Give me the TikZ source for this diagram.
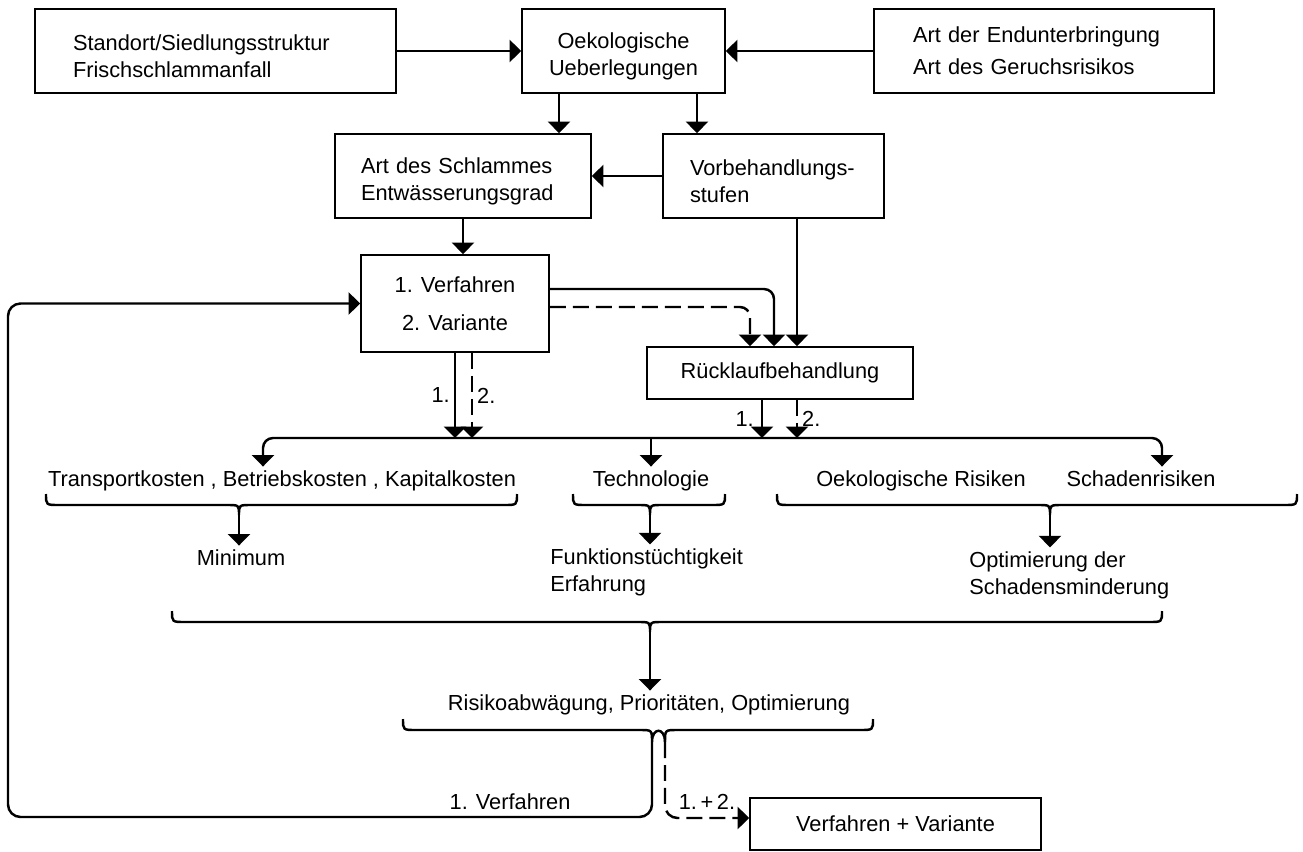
\documentclass[tikz,border=0pt]{standalone}
\usepackage{fontspec}
\setmainfont{Liberation Sans}
\usetikzlibrary{arrows.meta}

\tikzset{
  kasten/.style={draw, line width=1pt, minimum height=1.68cm, inner ysep=0pt},
  pfeil/.style={line width=1.4pt, -{Triangle[width=0.44cm,length=0.23cm]}},
  dpfeil/.style={line width=1.4pt, {Triangle[width=0.44cm,length=0.23cm]}-{Triangle[width=0.44cm,length=0.23cm]}},
  strich/.style={line width=1.4pt},
  gestrichelt/.style={dash pattern=on 0.32cm off 0.14cm},
  marke/.style={inner sep=0.08cm},
  zeile/.style={marke, text height=9pt, text depth=2.5pt},
}
\newcommand{\oben}{\rule{0pt}{15pt}}

\begin{document}
\begin{tikzpicture}[x=0.02cm, y=-0.02cm, font=\fontsize{12.4pt}{15.5pt}\selectfont]
\useasboundingbox (0,0) rectangle (1303,852);

% Kaesten
\node[kasten, minimum width=7.22cm, text width=5.70cm, inner xsep=0.76cm, align=left] (standort) at (215.5,51) {\oben Standort/Siedlungsstruktur\\Frischschlammanfall};
\node[kasten, minimum width=4.06cm, align=center] (oeko) at (623.5,51) {\oben Oekologische\\Ueberlegungen};
\node[kasten, minimum width=6.8cm, text width=5.24cm, inner xsep=0.78cm, align=left] (endunt) at (1044,51) {Art der Endunterbringung\\[2.5pt]Art des Geruchsrisikos};
\node[kasten, minimum width=5.12cm, text width=4.08cm, inner xsep=0.52cm, align=left] (schlamm) at (463,176) {\oben Art des Schlammes\\Entwässerungsgrad};
\node[kasten, minimum width=4.42cm, text width=3.34cm, inner xsep=0.54cm, align=left] (vorbeh) at (773.5,176) {\oben Vorbehandlungs-\\stufen};
\node[kasten, minimum width=3.76cm, minimum height=1.94cm, align=center] (verf) at (455,303.5) {1. Verfahren\\[6pt]2. Variante};
\node[kasten, minimum width=5.32cm, minimum height=1.04cm] (rueck) at (780,373) {Rücklaufbehandlung};
\node[kasten, minimum width=5.82cm, minimum height=1.04cm] (ergebnis) at (895.5,824) {Verfahren + Variante};

% Texte
\node[zeile] (kosten) at (282,481) {Transportkosten , Betriebskosten , Kapitalkosten};
\node[zeile] (tech) at (651,481) {Technologie};
\node[zeile] (oekorisk) at (921,481) {Oekologische Risiken};
\node[zeile] (schaden) at (1141,481) {Schadenrisiken};
\node[zeile] (minimum) at (241,560) {Minimum};
\node[marke, anchor=west, align=left] (funk) at (546,572.5) {Funktionstüchtigkeit\\Erfahrung};
\node[marke, anchor=west, align=left] (opt) at (965,575.5) {Optimierung der\\Schadensminderung};
\node[zeile] (risiko) at (649,705) {Risikoabwägung, Prioritäten, Optimierung};
\node[zeile] (v1) at (510,804) {1. Verfahren};
\node[zeile] (v12) at (707,804) {1.\,+\,2.};

\coordinate (vl) at (263,438);
\coordinate (vr) at (1162,438);

% oben
\draw[pfeil] (standort) -- (oeko);
\draw[pfeil] (endunt) -- (oeko);
\draw[pfeil] ([xshift=-1.29cm]oeko.south) -- ([xshift=-1.29cm]oeko.south |- schlamm.north);
\draw[pfeil] ([xshift=1.47cm]oeko.south) -- ([xshift=1.47cm]oeko.south |- vorbeh.north);
\draw[pfeil] (vorbeh) -- (schlamm);
\draw[pfeil] (schlamm.south) -- (schlamm.south |- verf.north);

% zur Ruecklaufbehandlung
\draw[pfeil, rounded corners=0.2cm] ([yshift=0.29cm]verf.east) -| ([xshift=-0.12cm]rueck.north);
\draw[pfeil, gestrichelt, rounded corners=0.2cm] ([yshift=-0.07cm]verf.east) -| ([xshift=-0.6cm]rueck.north);
\draw[pfeil] ([xshift=0.47cm]vorbeh.south) -- ([xshift=0.47cm]vorbeh.south |- rueck.north);

% nach unten
\draw[pfeil] (verf.south) -- node[left, marke]{1.} (verf.south |- vl);
\draw[pfeil, gestrichelt] ([xshift=0.34cm]verf.south) -- node[right, marke]{2.} ([xshift=0.34cm]verf.south |- vl);
\draw[pfeil] ([xshift=-0.36cm]rueck.south) -- node[left, marke, xshift=-0.06cm]{1.} ([xshift=-0.36cm]rueck.south |- vl);
\draw[pfeil, gestrichelt] ([xshift=0.34cm]rueck.south) -- node[right, marke]{2.} ([xshift=0.34cm]rueck.south |- vl);

\draw[dpfeil, rounded corners=0.2cm] (kosten.north -| vl) |- (vr) -- (vr |- schaden.north);
\draw[pfeil] (tech.north |- vl) -- (tech.north);

% Klammern
\foreach \xa/\xm/\xb/\yb/\nm in {46/239/517/505/k1, 573/650/725/505/k2, 777/1050/1297/505/k3, 172/650/1162/622/k4}
  \draw[strich] (\xa,\yb-11) .. controls (\xa,\yb) .. (\xa+13,\yb) -- (\xm-12,\yb) .. controls (\xm,\yb) .. (\xm,\yb+10) coordinate (\nm)
    .. controls (\xm,\yb) .. (\xm+12,\yb) -- (\xb-13,\yb) .. controls (\xb,\yb) .. (\xb,\yb-11);

\draw[pfeil] (k1) -- (k1 |- minimum.north);
\draw[pfeil] (k2) -- (k2 |- funk.north);
\draw[pfeil] (k3) -- (k3 |- opt.north);
\draw[pfeil] (k4) -- (k4 |- risiko.north);

% Rueckfuehrung
\coordinate (sv) at (652,742);
\coordinate (sd) at (665,742);
\coordinate (unten) at (8,817);
\draw[strich] (403,719) .. controls (403,730) .. (416,730) -- (640,730) .. controls (652,730) .. (sv) .. controls (652,727) and (665,727) .. (sd);
\draw[strich] (873,719) .. controls (873,730) .. (860,730) -- (677,730) .. controls (665,730) .. (sd);
\draw[pfeil, rounded corners=0.25cm] (sv) |- (unten) |- (verf.west);
\draw[pfeil, gestrichelt, rounded corners=0.25cm] (sd) |- ([yshift=0.12cm]ergebnis.west);

\end{tikzpicture}
\end{document}
